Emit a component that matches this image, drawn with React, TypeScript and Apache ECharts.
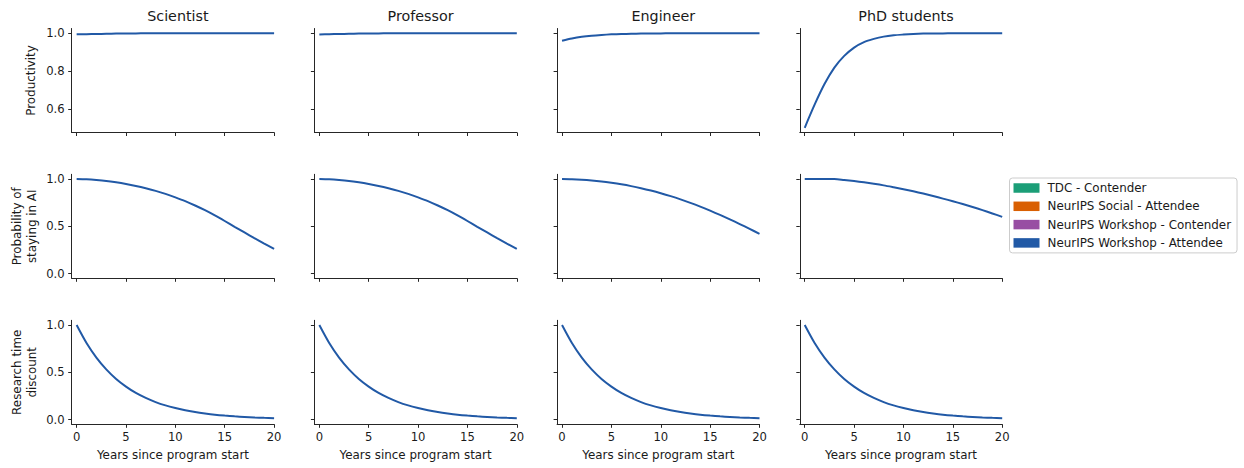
import React, { useEffect, useRef } from "react";
import * as echarts from "echarts";

const YEARS = [0, 1, 2, 3, 4, 5, 6, 7, 8, 9, 10, 11, 12, 13, 14, 15, 16, 17, 18, 19, 20];
const ROLES = ["Scientist", "Professor", "Engineer", "PhD students"];
const ROW_LABELS = ["Productivity", "Probability of\nstaying in AI", "Research time\ndiscount"];
const LEGEND_NAMES = [
  "TDC - Contender",
  "NeurIPS Social - Attendee",
  "NeurIPS Workshop - Contender",
  "NeurIPS Workshop - Attendee",
];
const LEGEND_COLORS = ["#1b9e77", "#d95f02", "#984ea3", "#2159a6"];
const X_TICKS = [0, 5, 10, 15, 20];
const Y_TICKS_PROD = [0.6, 0.8, 1.0];
const Y_TICKS_PROB = [0.0, 0.5, 1.0];

// Productivity
const PROD_SCIENTIST = [0.994, 0.995, 0.996, 0.997, 0.998, 0.999, 0.999, 1, 1, 1, 1, 1, 1, 1, 1, 1, 1, 1, 1, 1, 1];
const PROD_PROFESSOR = [0.993, 0.995, 0.996, 0.997, 0.998, 0.999, 0.999, 1, 1, 1, 1, 1, 1, 1, 1, 1, 1, 1, 1, 1, 1];
const PROD_ENGINEER = [0.96, 0.972, 0.981, 0.987, 0.991, 0.994, 0.996, 0.997, 0.998, 0.999, 0.999, 1, 1, 1, 1, 1, 1, 1, 1, 1, 1];
const PROD_PHD = [0.5, 0.622, 0.731, 0.818, 0.88, 0.924, 0.953, 0.97, 0.982, 0.989, 0.993, 0.996, 0.998, 0.999, 0.999, 1, 1, 1, 1, 1, 1];

// Probability of staying in AI
const PROB_SCIENTIST = [1.0, 0.997, 0.99, 0.98, 0.965, 0.947, 0.926, 0.902, 0.875, 0.843, 0.806, 0.766, 0.72, 0.67, 0.615, 0.556, 0.495, 0.435, 0.375, 0.317, 0.26];
const PROB_PROFESSOR = [1.0, 0.997, 0.99, 0.98, 0.965, 0.947, 0.926, 0.902, 0.875, 0.843, 0.806, 0.766, 0.72, 0.67, 0.615, 0.556, 0.495, 0.435, 0.375, 0.317, 0.26];
const PROB_ENGINEER = [1.0, 0.998, 0.993, 0.985, 0.974, 0.96, 0.944, 0.925, 0.903, 0.878, 0.85, 0.819, 0.785, 0.748, 0.708, 0.665, 0.62, 0.573, 0.524, 0.473, 0.42];
const PROB_PHD = [1.0, 1.0, 1.0, 1.0, 0.99, 0.978, 0.965, 0.95, 0.933, 0.913, 0.892, 0.87, 0.846, 0.82, 0.793, 0.765, 0.735, 0.704, 0.671, 0.636, 0.6];

// Research time discount
const DISC_SCIENTIST = [1.0, 0.81, 0.656, 0.531, 0.43, 0.349, 0.282, 0.229, 0.185, 0.15, 0.122, 0.098, 0.08, 0.065, 0.052, 0.042, 0.034, 0.028, 0.022, 0.018, 0.015];
const DISC_PROFESSOR = [1.0, 0.81, 0.656, 0.531, 0.43, 0.349, 0.282, 0.229, 0.185, 0.15, 0.122, 0.098, 0.08, 0.065, 0.052, 0.042, 0.034, 0.028, 0.022, 0.018, 0.015];
const DISC_ENGINEER = [1.0, 0.81, 0.656, 0.531, 0.43, 0.349, 0.282, 0.229, 0.185, 0.15, 0.122, 0.098, 0.08, 0.065, 0.052, 0.042, 0.034, 0.028, 0.022, 0.018, 0.015];
const DISC_PHD = [1.0, 0.81, 0.656, 0.531, 0.43, 0.349, 0.282, 0.229, 0.185, 0.15, 0.122, 0.098, 0.08, 0.065, 0.052, 0.042, 0.034, 0.028, 0.022, 0.018, 0.015];

const PANEL_DATA = [
  [PROD_SCIENTIST, PROD_PROFESSOR, PROD_ENGINEER, PROD_PHD],
  [PROB_SCIENTIST, PROB_PROFESSOR, PROB_ENGINEER, PROB_PHD],
  [DISC_SCIENTIST, DISC_PROFESSOR, DISC_ENGINEER, DISC_PHD],
];

const FONT = "DejaVu Sans";
const AXIS_COLOR = "#262626";
const TEXT_COLOR = "#1a1a1a";

export default function App() {
  const ref = useRef<HTMLDivElement>(null);

  useEffect(() => {
    if (!ref.current) return;
    const chart = echarts.init(ref.current, undefined, { renderer: "svg" });

    const colLeft = [71.7, 314.4, 557.1, 799.8];
    const gridW = 202.4;
    const rowTop = [28.5, 174.3, 320.3];
    const gridH = 104;

    const grids: any[] = [];
    const xAxes: any[] = [];
    const yAxes: any[] = [];
    const series: any[] = [];
    const titles: any[] = [];

    ROLES.forEach((role, c) => {
      titles.push({
        text: role,
        left: colLeft[c] + gridW / 2,
        top: 4,
        textAlign: "center",
        textStyle: { fontFamily: FONT, fontSize: 14.3, fontWeight: "normal", color: TEXT_COLOR },
      });
    });

    for (let r = 0; r < 3; r++) {
      for (let c = 0; c < 4; c++) {
        const idx = grids.length;
        grids.push({ left: colLeft[c], top: rowTop[r], width: gridW, height: gridH, containLabel: false });
        xAxes.push({
          type: "value",
          gridIndex: idx,
          min: -0.5,
          max: 20,
          axisLine: { show: true, onZero: false, lineStyle: { color: AXIS_COLOR, width: 1 } },
          axisTick: { show: true, length: 3.5, customValues: X_TICKS, lineStyle: { color: AXIS_COLOR, width: 1 } },
          axisLabel: {
            show: r === 2,
            customValues: X_TICKS,
            margin: 7,
            fontFamily: FONT,
            fontSize: 11.6,
            color: TEXT_COLOR,
          },
          splitLine: { show: false },
          name: r === 2 ? "Years since program start" : "",
          nameLocation: "middle",
          nameGap: 25,
          nameTextStyle: { fontFamily: FONT, fontSize: 11.9, color: TEXT_COLOR },
        });
        const ticks = r === 0 ? Y_TICKS_PROD : Y_TICKS_PROB;
        yAxes.push({
          type: "value",
          gridIndex: idx,
          min: r === 0 ? 0.475 : -0.05,
          max: r === 0 ? 1.025 : 1.05,
          axisLine: { show: true, onZero: false, lineStyle: { color: AXIS_COLOR, width: 1 } },
          axisTick: { show: true, length: 3.5, customValues: ticks, lineStyle: { color: AXIS_COLOR, width: 1 } },
          axisLabel: {
            show: c === 0,
            customValues: ticks,
            margin: 7,
            formatter: (v: number) => v.toFixed(1),
            fontFamily: FONT,
            fontSize: 11.6,
            color: TEXT_COLOR,
          },
          splitLine: { show: false },
          name: c === 0 ? ROW_LABELS[r] : "",
          nameLocation: "middle",
          nameGap: r === 0 ? 33 : 32,
          nameTextStyle: { fontFamily: FONT, fontSize: 11.9, color: TEXT_COLOR, lineHeight: 15 },
        });
        const vals = PANEL_DATA[r][c];
        series.push({
          type: "line",
          name: LEGEND_NAMES[3],
          xAxisIndex: idx,
          yAxisIndex: idx,
          data: YEARS.map((y, i) => [y, vals[i]]),
          showSymbol: false,
          symbol: "none",
          smooth: 0.3,
          lineStyle: { color: LEGEND_COLORS[3], width: 2 },
          itemStyle: { color: LEGEND_COLORS[3] },
          silent: true,
          z: 3,
        });
      }
    }

    // Legend-only series for the other groups (their lines coincide beneath the top one)
    for (let k = 0; k < 3; k++) {
      series.push({
        type: "line",
        name: LEGEND_NAMES[k],
        xAxisIndex: 0,
        yAxisIndex: 0,
        data: [],
        itemStyle: { color: LEGEND_COLORS[k] },
        lineStyle: { color: LEGEND_COLORS[k] },
      });
    }

    chart.setOption({
      animation: false,
      backgroundColor: "#ffffff",
      title: titles,
      grid: grids,
      xAxis: xAxes,
      yAxis: yAxes,
      series,
      legend: {
        data: LEGEND_NAMES.map((n) => ({ name: n, icon: "rect" })),
        orient: "vertical",
        left: 1009.5,
        top: 178,
        padding: [3, 6, 3, 4],
        itemWidth: 26,
        itemHeight: 9.5,
        itemGap: 4.3,
        selectedMode: false,
        borderColor: "#cccccc",
        borderWidth: 1,
        borderRadius: 3,
        textStyle: { fontFamily: FONT, fontSize: 11.9, color: TEXT_COLOR, lineHeight: 14, padding: [0, 0, 0, 3] },
      },
    });

    return () => chart.dispose();
  }, []);

  return (
    <div
      ref={ref}
      style={{ position: "fixed", left: 0, top: 0, width: 1244, height: 468, background: "#fff" }}
    />
  );
}
